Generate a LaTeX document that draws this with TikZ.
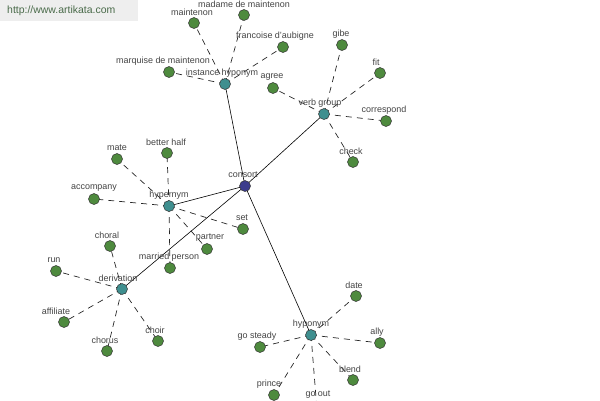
\documentclass[tikz,border=0pt]{standalone}
\usepackage{fontspec}
\setmainfont{Liberation Sans}
\definecolor{leaf}{HTML}{4E8A3E}
\definecolor{hub}{HTML}{3F8F8F}
\definecolor{root}{HTML}{3C3C8C}
\definecolor{lbl}{HTML}{444444}
\definecolor{wm}{HTML}{4A6B4A}
\definecolor{wmbg}{HTML}{EEEEEE}
\begin{document}
\begin{tikzpicture}[x=1bp,y=-1bp,
  dot/.style={circle,draw=black!80,line width=0.5pt,inner sep=0pt,minimum size=11bp},
  leafdot/.style={dot,fill=leaf},
  hubdot/.style={dot,fill=hub},
  rootdot/.style={dot,fill=root},
  lab/.style={text=lbl,font=\fontsize{9}{9}\selectfont,inner sep=0pt},
  solidedge/.style={draw=black,line width=0.6pt},
  dashedge/.style={draw=black!85,line width=0.7pt,dash pattern=on 6bp off 5bp}]
\useasboundingbox (0,0) rectangle (600,400);
\begin{scope}
\clip (0,0) rectangle (600,400);
% watermark
\node[fill=wmbg,minimum width=138bp,minimum height=21bp,inner sep=0pt,anchor=north west] (wmbox) at (0,0) {};
\node[text=wm,font=\fontsize{10.5}{10.5}\selectfont,anchor=west,inner sep=0pt] (wmtext) at (7,11) {http://www.artikata.com};
% coordinates of nodes
\coordinate (consort) at (245,186);
\coordinate (ih) at (225,84);
\coordinate (vg) at (324,114);
\coordinate (hyper) at (169,206);
\coordinate (deriv) at (122,289);
\coordinate (hypo) at (311,335);
% leaves
\coordinate (maintenon) at (194,23);
\coordinate (madame) at (244,15);
\coordinate (francoise) at (283,47);
\coordinate (marquise) at (169,72);
\coordinate (agree) at (273,88);
\coordinate (gibe) at (342,45);
\coordinate (fit) at (380,73);
\coordinate (correspond) at (386,121);
\coordinate (check) at (353,162);
\coordinate (mate) at (117,159);
\coordinate (betterhalf) at (167,153);
\coordinate (accompany) at (94,199);
\coordinate (set) at (243,229);
\coordinate (partner) at (207,249);
\coordinate (married) at (170,268);
\coordinate (choral) at (110,246);
\coordinate (run) at (56,271);
\coordinate (affiliate) at (64,322);
\coordinate (chorus) at (107,351);
\coordinate (choir) at (158,341);
\coordinate (date) at (356,296);
\coordinate (ally) at (380,343);
\coordinate (blend) at (353,380);
\coordinate (gosteady) at (260,347);
\coordinate (prince) at (274,395);
\coordinate (goout) at (317,410);
% solid edges
\foreach \h in {ih,vg,hyper,deriv,hypo} \draw[solidedge] (consort) -- (\h);
% dashed edges
\foreach \l in {maintenon,madame,francoise,marquise} \draw[dashedge] (ih) -- (\l);
\foreach \l in {agree,gibe,fit,correspond,check} \draw[dashedge] (vg) -- (\l);
\foreach \l in {mate,betterhalf,accompany,set,partner,married} \draw[dashedge] (hyper) -- (\l);
\foreach \l in {choral,run,affiliate,chorus,choir} \draw[dashedge] (deriv) -- (\l);
\foreach \l in {date,ally,blend,gosteady,prince,goout} \draw[dashedge] (hypo) -- (\l);
% dots
\node[rootdot] (nconsort) at (consort) {};
\foreach \h in {ih,vg,hyper,deriv,hypo} \node[hubdot] (n\h) at (\h) {};
\foreach \l in {maintenon,madame,francoise,marquise,agree,gibe,fit,correspond,check,mate,betterhalf,accompany,set,partner,married,choral,run,affiliate,chorus,choir,date,ally,blend,gosteady,prince,goout}
  \node[leafdot] (n\l) at (\l) {};
% labels
\node[lab] (lconsort) at (243,175) {consort};
\node[lab] (lih) at (222,73) {instance hyponym};
\node[lab] (lvg) at (320,103) {verb group};
\node[lab] (lhyper) at (169,195) {hypernym};
\node[lab] (lderiv) at (118,278) {derivation};
\node[lab] (lhypo) at (311,324) {hyponym};
\node[lab] (lmaintenon) at (192,12) {maintenon};
\node[lab] (lmadame) at (244,4.5) {madame de maintenon};
\node[lab] (lfrancoise) at (275,36) {francoise d'aubigne};
\node[lab] (lmarquise) at (163,61) {marquise de maintenon};
\node[lab] (lagree) at (272,77) {agree};
\node[lab] (lgibe) at (341,34) {gibe};
\node[lab] (lfit) at (376,62) {fit};
\node[lab] (lcorrespond) at (384,110) {correspond};
\node[lab] (lcheck) at (351,151) {check};
\node[lab] (lmate) at (117,148) {mate};
\node[lab] (lbetterhalf) at (166,142) {better half};
\node[lab] (laccompany) at (94,188) {accompany};
\node[lab] (lset) at (242,218) {set};
\node[lab] (lpartner) at (210,238) {partner};
\node[lab] (lmarried) at (169,257) {married person};
\node[lab] (lchoral) at (107,235) {choral};
\node[lab] (lrun) at (54,260) {run};
\node[lab] (laffiliate) at (56,311) {affiliate};
\node[lab] (lchorus) at (105,340) {chorus};
\node[lab] (lchoir) at (155,330) {choir};
\node[lab] (ldate) at (354,285) {date};
\node[lab] (lally) at (377,332) {ally};
\node[lab] (lgosteady) at (257,336) {go steady};
\node[lab] (lblend) at (350,369) {blend};
\node[lab] (lprince) at (269,384) {prince};
\node[lab] (lgoout) at (318,395) {go out};
\end{scope}
\end{tikzpicture}
\end{document}
